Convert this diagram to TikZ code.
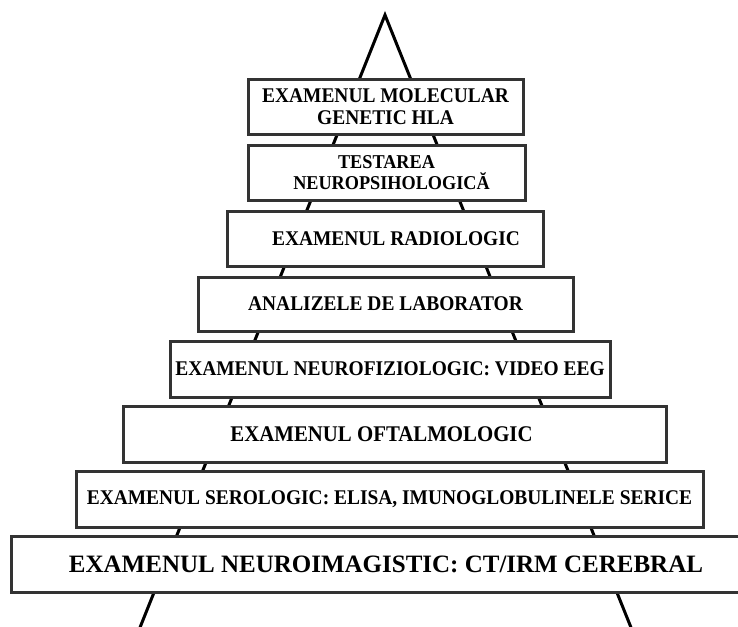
\documentclass[tikz,border=0pt]{standalone}
\usepackage{fontspec}
\setmainfont{Liberation Serif}
\newfontfamily\tierfont[FakeStretch=0.93]{Liberation Serif}
\begin{document}
\begin{tikzpicture}[x=1pt, y=-1pt,
  every node/.style={font=\tierfont\bfseries\fontsize{20.9}{22}\selectfont, align=center},
  tier/.style={draw=black!80, line width=3pt, fill=white, inner sep=0pt, minimum height=55}]
\useasboundingbox (0,0) rectangle (738,626);
\clip (0,0) rectangle (738,626);
\coordinate (apex) at (385,15);
\coordinate (baseL) at (139,630);
\coordinate (baseR) at (632,630);
\draw[line width=3pt] (baseL) -- (apex) -- (baseR);
\node[tier, minimum width=275] (molecular) at (385.5,106.5) {EXAMENUL MOLECULAR\\GENETIC HLA};
\node[tier, minimum width=277, font=\tierfont\bfseries\fontsize{19.6}{21}\selectfont] (neuropsi) at (386.5,172.5) {TESTAREA\\\hspace*{10pt}NEUROPSIHOLOGICĂ};
\node[tier, minimum width=316] (radiologic) at (385,238.5) {\hspace*{22pt}EXAMENUL RADIOLOGIC};
\node[tier, minimum width=375, minimum height=54] (laborator) at (385.5,304) {ANALIZELE DE LABORATOR};
\node[tier, minimum width=440, minimum height=56] (eeg) at (390,369) {EXAMENUL NEUROFIZIOLOGIC: VIDEO EEG};
\node[tier, minimum width=543, minimum height=56, font=\tierfont\bfseries\fontsize{22.4}{24}\selectfont] (oftalmo) at (394.5,434) {EXAMENUL OFTALMOLOGIC\hspace*{26pt}};
\node[tier, minimum width=627, minimum height=56] (serologic) at (389.5,499) {EXAMENUL SEROLOGIC: ELISA, IMUNOGLOBULINELE SERICE};
\node[tier, minimum width=750, minimum height=56, font=\bfseries\fontsize{25}{28}\selectfont] (imagistic) at (386,564) {EXAMENUL NEUROIMAGISTIC: CT/IRM CEREBRAL};
\end{tikzpicture}
\end{document}
